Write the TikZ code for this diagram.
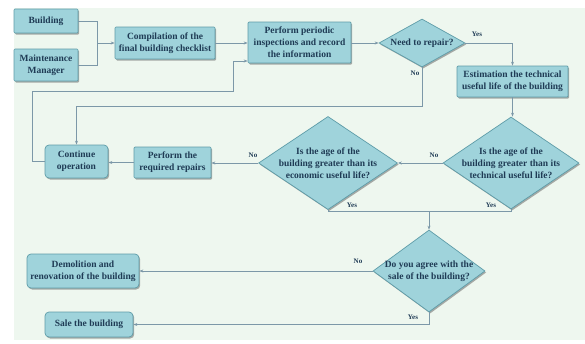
\documentclass[tikz,border=0pt]{standalone}
\usepackage{fontspec}
\setmainfont{Liberation Serif}
\usetikzlibrary{shapes.geometric,arrows.meta,shadows}
\definecolor{bgc}{HTML}{EEF7EF}
\definecolor{boxfill}{HTML}{9FD3DB}
\definecolor{boxline}{HTML}{5E9CA8}
\definecolor{txt}{HTML}{1F3B55}
\definecolor{conn}{HTML}{7C98A8}
\tikzset{
  x=1pt, y=-1pt,
  shd/.style={drop shadow={shadow xshift=1.2pt, shadow yshift=-1.5pt, opacity=0.45, fill=black!70}},
  boxnode/.style={draw=boxline, line width=0.7pt, fill=boxfill, shd, rounded corners=1pt,
    inner sep=0pt, align=center, text=txt, font=\fontsize{9.5}{12}\selectfont\bfseries},
  rbox/.style={boxnode, rounded corners=4pt},
  dia/.style={diamond, draw=boxline, line width=0.7pt, fill=boxfill, shd, inner sep=0pt, aspect=1},
  diatext/.style={align=center, text=txt, inner sep=0pt, font=\fontsize{9.5}{12}\selectfont\bfseries},
  conline/.style={draw=conn, line width=0.7pt},
  arr/.style={conline, -{Stealth[length=4pt,width=3pt]}},
  lab/.style={text=txt, inner sep=0pt, font=\fontsize{7}{8}\selectfont\bfseries}
}
\begin{document}
\begin{tikzpicture}
\useasboundingbox (0,0) rectangle (585,343);
\fill[bgc] (14,8) rectangle (585,340);

% boxes
\node[boxnode, minimum width=64pt, minimum height=24pt] (building) at (46,21) {Building};
\node[boxnode, minimum width=64pt, minimum height=32pt] (manager) at (46,65) {Maintenance\\Manager};
\node[boxnode, minimum width=100pt, minimum height=32pt] (compile) at (165,43) {Compilation of the\\final building checklist};
\node[boxnode, minimum width=103pt, minimum height=41pt] (inspect) at (299.5,42.5) {Perform periodic\\inspections and record\\the information};
\node[dia, minimum width=86pt, minimum height=48pt] (need) at (422,43) {};
\node[diatext] (needt) at (need) {Need to repair?};
\node[boxnode, minimum width=111pt, minimum height=31pt] (estim) at (512.5,81.5) {Estimation the technical\\useful life of the building};
\node[dia, minimum width=136pt, minimum height=92pt] (tech) at (511,163) {};
\node[diatext] (techt) at (tech) {Is the age of the\\building greater than its\\technical useful life?};
\node[dia, minimum width=139pt, minimum height=93pt] (econ) at (328,163) {};
\node[diatext] (econt) at (econ) {Is the age of the\\building greater than its\\economic useful life?};
\node[boxnode, minimum width=77pt, minimum height=31pt] (repairs) at (172.5,162.5) {Perform the\\required repairs};
\node[rbox, minimum width=63pt, minimum height=33pt] (cont) at (76.5,161.5) {Continue\\operation};
\node[dia, minimum width=112pt, minimum height=82pt] (sale) at (429,271) {};
\node[diatext] (salet) at (sale) {Do you agree with the\\sale of the building?};
\node[rbox, minimum width=112pt, minimum height=34pt] (demol) at (83,271) {Demolition and\\renovation of the building};
\node[rbox, minimum width=88pt, minimum height=25pt] (salebld) at (89,324.5) {Sale the building};

% junction coordinates
\coordinate (j1) at (97,43);
\coordinate (n1) at (422,106);
\coordinate (l1) at (32,91);
\coordinate (l2) at (233,61);
\coordinate (h) at (429,211);
\coordinate (s1) at (429,324.5);

% connectors
\draw[conline] (building.east) -| (j1);
\draw[conline] (manager.east) -| (j1);
\draw[arr] (j1) -- (compile.west);
\draw[arr] (compile.east) -- (compile.east -| inspect.west);
\draw[arr] (inspect.east |- need.west) -- (need.west);
\draw[arr] (need.east) -| (estim.north);
\draw[arr] (need.south) -- (n1) -| (cont.north);
\draw[arr] (cont.west) -| (l1) -| (l2) -- (l2 -| inspect.west);
\draw[arr] (estim.south) -- (estim.south |- tech.north);
\draw[arr] (tech.west) -- (econ.east);
\draw[arr] (econ.west) -- (repairs.east |- econ.west);
\draw[arr] (repairs.west) -- (cont.east |- repairs.west);
\draw[conline] (econ.south) -- (econ.south |- h) -- (tech.south |- h) -- (tech.south);
\draw[arr] (h) -- (sale.north);
\draw[arr] (sale.west) -- (demol.east);
\draw[arr] (sale.south) -- (s1) -- (salebld.east |- s1);

% labels
\node[lab] (y1) at (477,34) {Yes};
\node[lab] (n1l) at (415,73) {No};
\node[lab] (n2l) at (434,155) {No};
\node[lab] (n3l) at (253,155) {No};
\node[lab] (y2) at (352,205) {Yes};
\node[lab] (y3) at (491,205) {Yes};
\node[lab] (n4l) at (358,261) {No};
\node[lab] (y4) at (413,317) {Yes};
\end{tikzpicture}
\end{document}
